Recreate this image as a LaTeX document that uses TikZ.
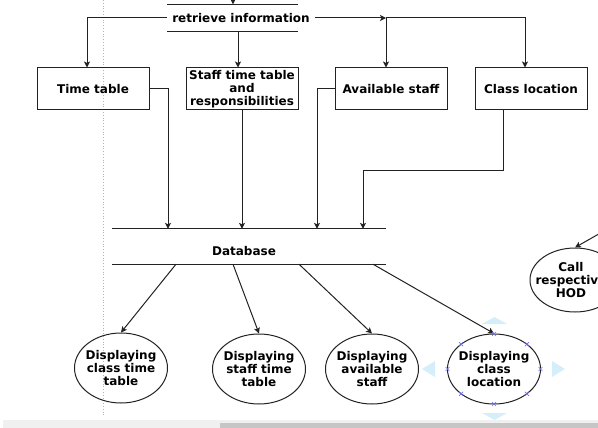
\documentclass[tikz,border=0pt]{standalone}
\usepackage{fontspec}
\setmainfont{DejaVu Sans}
\usetikzlibrary{arrows.meta,shapes.geometric,calc}
\definecolor{ln}{HTML}{222222}
\definecolor{selx}{HTML}{6E6EF0}
\definecolor{seltri}{HTML}{D4EEFA}
\begin{document}
\begin{tikzpicture}[x=1pt,y=-1pt,
  every node/.style={font=\bfseries\fontsize{12}{13}\selectfont, text=black},
  box/.style={draw=ln, line width=1pt, minimum width=112pt, minimum height=42pt, inner sep=0pt, align=center},
  ell/.style={draw=ln, line width=1pt, ellipse, minimum width=93pt, minimum height=70pt, inner sep=0pt},
  txt/.style={align=center, inner sep=0pt},
  arr/.style={draw=ln, line width=1pt, -{Stealth[length=6pt,width=6pt,inset=1.5pt]}},
  plain/.style={draw=ln, line width=1pt},
  xm/.style={draw=selx, line width=0.6pt}
]
\useasboundingbox (0,0) rectangle (598,428);
% page boundary (dotted)
\draw[gray!60, line width=0.8pt, dotted] (103,0) -- (103,415);

% retrieve information (data store)
\node[txt, minimum width=148pt, minimum height=27pt] (ri) at (241,18) {retrieve information};
\draw[plain] (ri.north west) -- ([xshift=-17pt]ri.north east);
\draw[plain] (ri.south west) -- ([xshift=-17pt]ri.south east);
\coordinate (top) at (233,-6);
\draw[arr] (top) -- (top |- ri.north);

% boxes
\node[box] (tt) at (93,89) {Time table};
\node[box] (st) at (242,89) {Staff time table\\and\\responsibilities};
\node[box] (av) at (391,89) {Available staff};
\node[box] (cl) at (531,89) {Class location};

% edges from retrieve information
\draw[arr] (ri.west) -| ([xshift=-6pt]tt.north);
\coordinate (rs) at ([xshift=-3pt]ri.south);
\draw[arr] (rs) -- (rs |- st.north);
\coordinate (j) at (386,18);
\draw[arr] (ri.east) -- (j);
\draw[arr] (j) -- (j |- av.north);
\draw[arr] (j) -| ([xshift=-6pt]cl.north);

% database
\node[txt, minimum width=274pt, minimum height=35pt] (db) at (249,246.5) {};
\node[txt] (dbt) at ([xshift=-5pt,yshift=-5pt]db.center) {Database};
\draw[plain] (db.north west) -- (db.north east);
\draw[plain] (db.south west) -- (db.south east);

% edges into database
\draw[arr] (tt.east) -| ([xshift=-81pt]db.north);
\draw[arr] (st.south) -- (st.south |- db.north);
\draw[arr] (av.west) -| ([xshift=68pt]db.north);
\draw[arr] ([xshift=-28pt]cl.south) -- ++(0,60) -| ([xshift=114pt]db.north);

% ellipses
\node[ell] (e1) at (121,368) {};
\node[txt] (e1t) at (e1.center) {Displaying\\class time\\table};
\node[ell] (e2) at (259,369) {};
\node[txt] (e2t) at (e2.center) {Displaying\\staff time\\table};
\node[ell] (e3) at (372,369) {};
\node[txt] (e3t) at (e3.center) {Displaying\\available\\staff};
\node[ell] (e4) at (494,369) {};
\node[txt] (e4t) at (e4.center) {Displaying\\class\\location};
\node[ell, minimum width=90pt, minimum height=64pt] (hod) at (575,280) {};
\node[txt] (hodt) at ([xshift=-4pt]hod.center) {Call\\respective\\HOD};

% edges from database
\draw[arr] ([xshift=-73pt]db.south) -- (e1.north);
\draw[arr] ([xshift=-16pt]db.south) -- (e2.north);
\draw[arr] ([xshift=50pt]db.south) -- (e3.north);
\draw[arr] ([xshift=124pt]db.south) -- (e4.north);
\coordinate (hin) at (604,231);
\draw[arr] (hin) -- (hod.north);

% selection handles on e4
\foreach \a in {0,45,...,315}{
  \path (e4.center) ++(\a:46.5pt and -35pt) coordinate (h);
  \draw[xm] ($(h)+(-2,-2)$) -- ($(h)+(2,2)$) ($(h)+(-2,2)$) -- ($(h)+(2,-2)$);
}
\fill[seltri] (482,324) -- (507,324) -- (494.5,317) -- cycle;
\fill[seltri] (482,413) -- (507,413) -- (494.5,420) -- cycle;
\fill[seltri] (435,361) -- (435,377) -- (422,369) -- cycle;
\fill[seltri] (552,361) -- (552,377) -- (565,369) -- cycle;

% scrollbar
\fill[gray!12] (3,420) rectangle (598,428);
\fill[gray!45] (220,423) rectangle (598,428);
\end{tikzpicture}
\end{document}
